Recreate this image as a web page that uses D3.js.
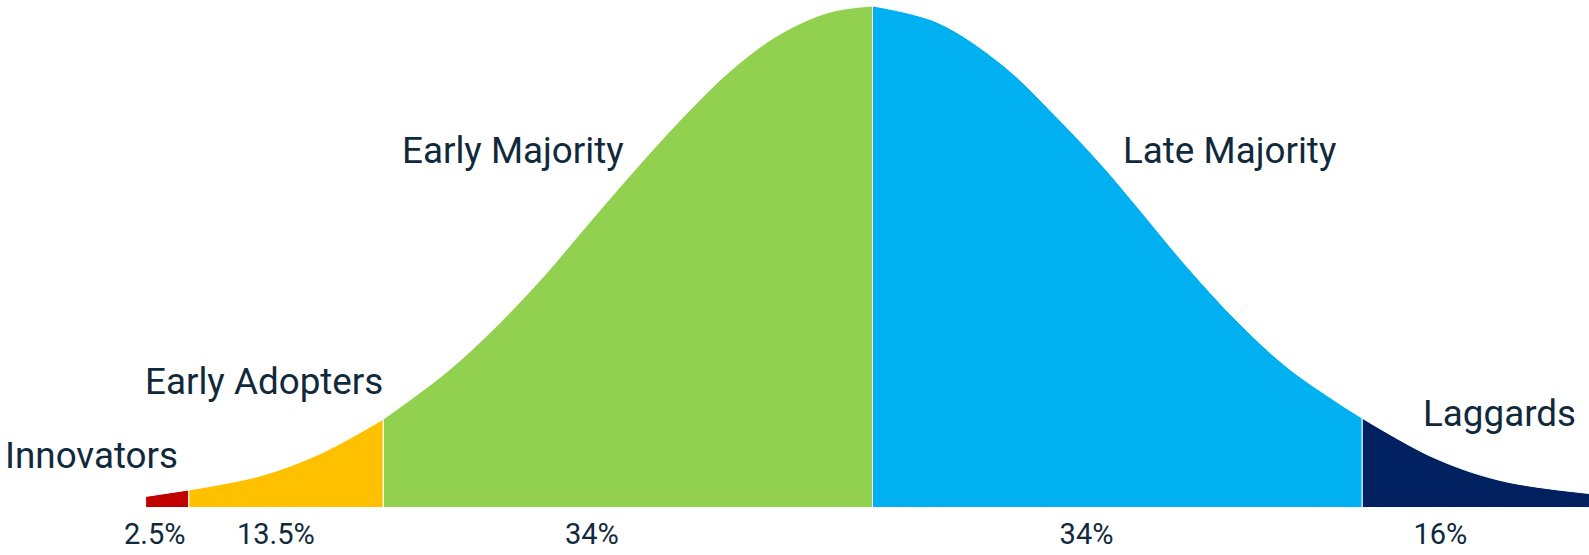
<!DOCTYPE html>
<html>
<head>
<meta charset="utf-8">
<script src="https://cdn.jsdelivr.net/npm/d3@7"></script>
<style>
  html, body { margin: 0; padding: 0; background: #ffffff; }
  svg { display: block; }
  text { font-family: Roboto, "Noto Sans", sans-serif; fill: #10293b; }
</style>
</head>
<body>
<svg id="chart" width="1589" height="555"></svg>
<script>
// Adopter categories and their share of the population
const segments = ["Innovators", "Early Adopters", "Early Majority", "Late Majority", "Laggards"];
const shares = [2.5, 13.5, 34, 34, 16];
const shareLabels = ["2.5%", "13.5%", "34%", "34%", "16%"];

// Segment edges along the adoption-time axis (standard deviations from the mean)
const edges = [-2.743, -2.58, -1.846, 0, 1.848, 2.75];

// Bell curve samples: position (std. deviations) and height (% of peak)
const curveX = [-2.743, -2.58, -2.311, -2.085, -1.846, -1.607, -1.418, -1.229, -1.104, -0.915,
                -0.726, -0.538, -0.349, -0.160, 0, 0.242, 0.492, 0.681, 0.870, 0.998,
                1.187, 1.375, 1.564, 1.753, 1.848, 2.115, 2.368, 2.703, 2.75];
const curveY = [2.2, 3.5, 6.3, 10.7, 17.6, 27.0, 36.2, 46.8, 54.6, 66.2,
                77.2, 87.0, 94.4, 98.8, 100, 96.8, 88.2, 78.6, 68.0, 60.0,
                48.0, 37.2, 28.0, 21.0, 17.8, 10.0, 5.4, 2.8, 2.6];

// Styling
const colors = ["#c00000", "#ffc000", "#92d050", "#00b0f0", "#002060"];
const W = 1589, H = 555;

const svg = d3.select("#chart");

const x = d3.scaleLinear().domain([-3, 3]).range([77.5, 1667.5]);
const y = d3.scaleLinear().domain([0, 100]).range([507.5, 6]);

const points = curveX.map((v, i) => ({ x: v, y: curveY[i] }));

const area = d3.area()
  .x(d => x(d.x))
  .y0(y(0))
  .y1(d => y(d.y))
  .curve(d3.curveCatmullRom.alpha(0.5));

const eps = 1e-6;
const segData = segments.map((name, i) => ({
  name,
  share: shares[i],
  color: colors[i],
  pts: points.filter(p => p.x >= edges[i] - eps && p.x <= edges[i + 1] + eps)
}));

const clip = svg.append("defs").append("clipPath").attr("id", "plot-clip");
clip.append("rect").attr("x", 0).attr("y", 0).attr("width", W).attr("height", H);

svg.append("g")
  .attr("clip-path", "url(#plot-clip)")
  .selectAll("path")
  .data(segData)
  .join("path")
  .attr("d", d => area(d.pts))
  .attr("fill", d => d.color)
  .attr("stroke", "#ffffff")
  .attr("stroke-width", 1)
  .attr("stroke-linejoin", "round");

// Category names
const nameLayout = [
  { x: 5, y: 468 },
  { x: 145, y: 394 },
  { x: 402, y: 163 },
  { x: 1123, y: 163 },
  { x: 1423, y: 425.5 }
];

svg.append("g")
  .selectAll("text")
  .data(segments)
  .join("text")
  .attr("x", (d, i) => nameLayout[i].x)
  .attr("y", (d, i) => nameLayout[i].y)
  .attr("font-size", 36.8)
  .text(d => d);

// Share labels under the baseline
const shareLayout = [154.7, 275.8, 591.8, 1086.5, 1440.3];

svg.append("g")
  .selectAll("text")
  .data(shareLabels)
  .join("text")
  .attr("x", (d, i) => shareLayout[i])
  .attr("y", 544)
  .attr("text-anchor", "middle")
  .attr("font-size", 29)
  .text(d => d);
</script>
</body>
</html>
